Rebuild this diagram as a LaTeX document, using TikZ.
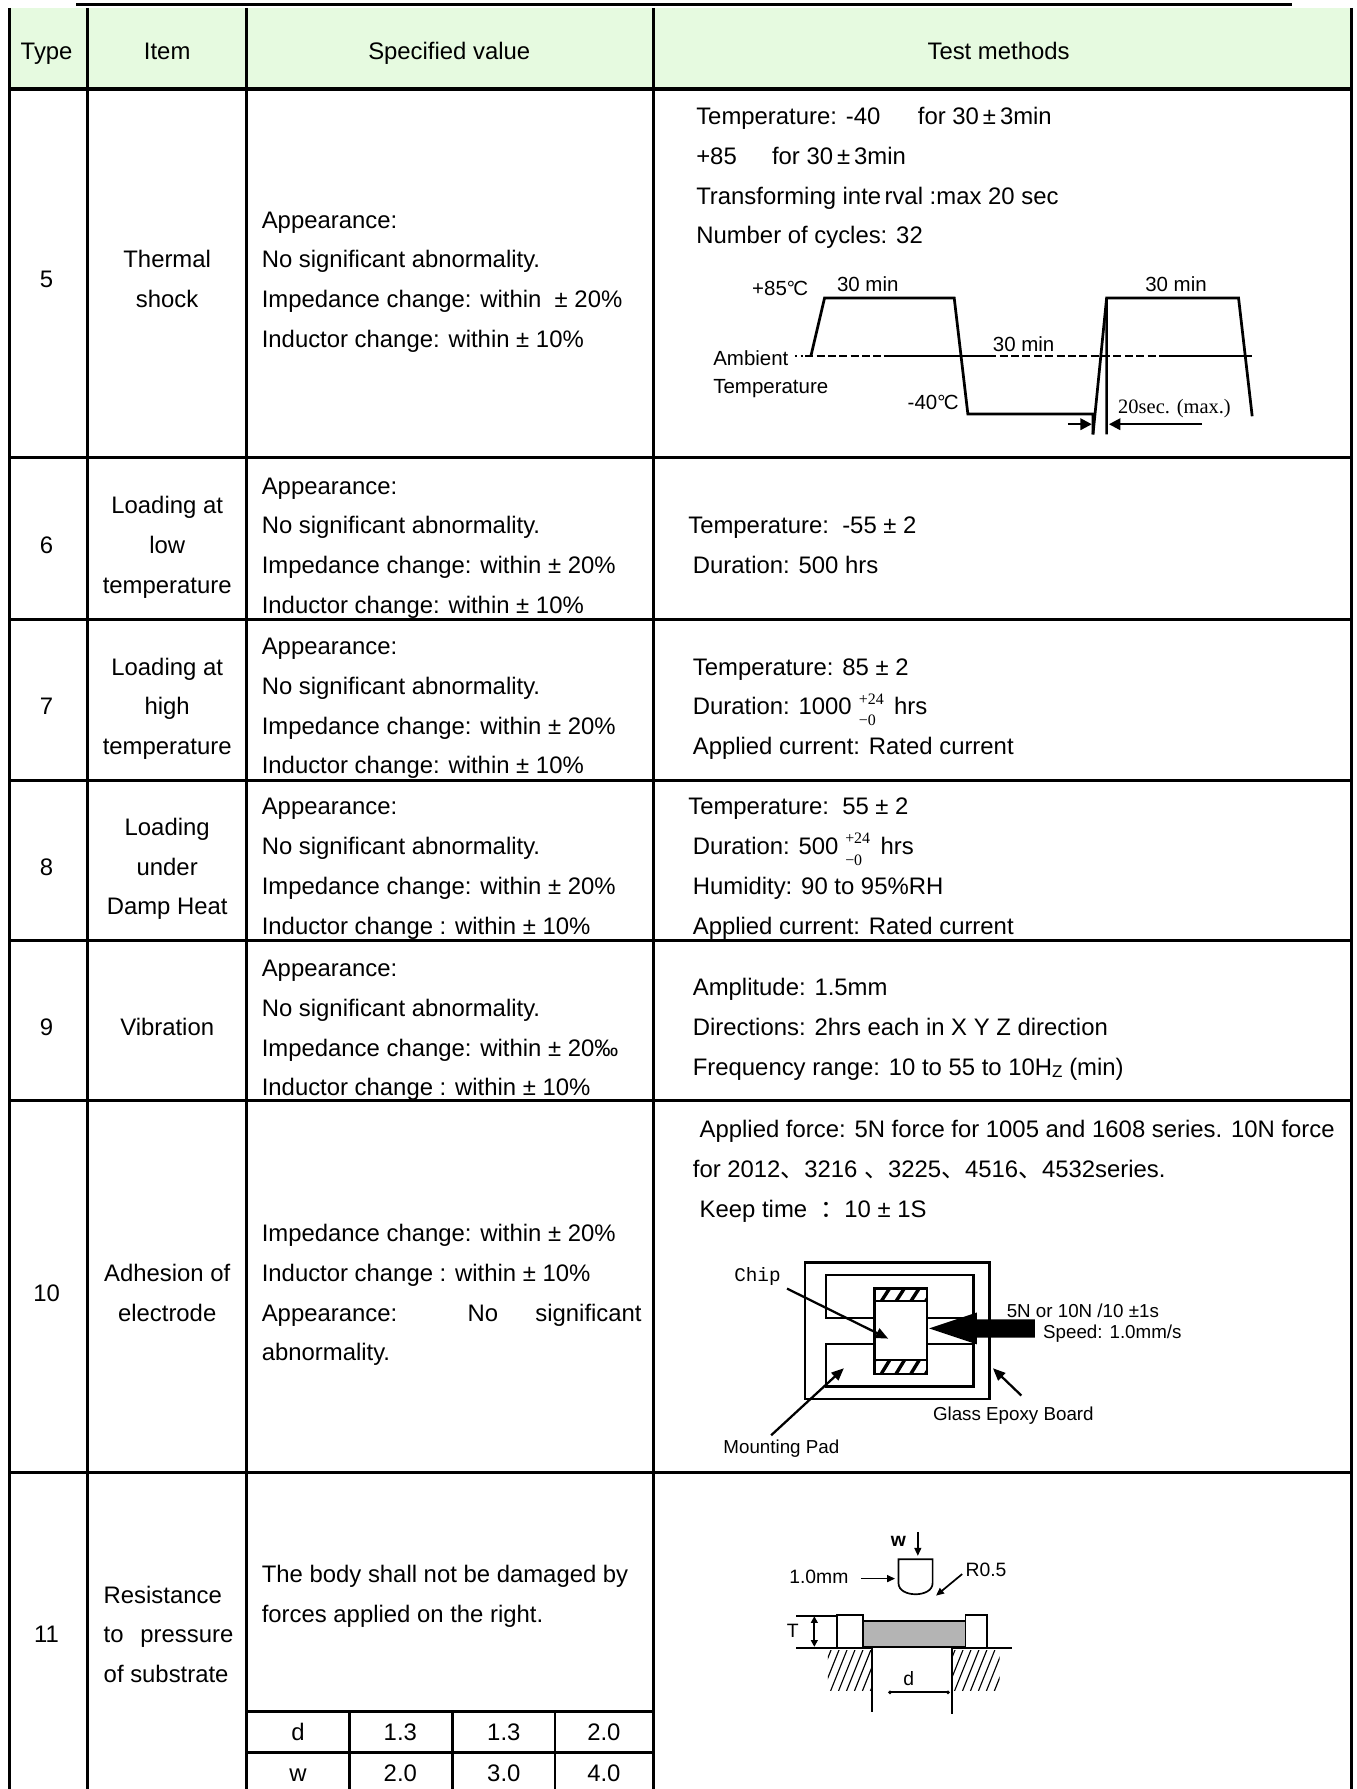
\documentclass[tikz,border=0pt]{standalone}
\usepackage{fontspec}
\setmainfont{Liberation Sans}
\newfontfamily\cjk{Noto Sans CJK SC}
\newfontfamily\serf{Liberation Serif}
\newfontfamily\monof{Liberation Mono}
\usetikzlibrary{arrows.meta}
\definecolor{hdr}{HTML}{E6FAE0}
\definecolor{bodygray}{HTML}{B4B4B4}
\begin{document}
\begin{tikzpicture}[x=1pt,y=-1pt,
  txt/.style={inner sep=0pt,font=\fontsize{21}{25}\selectfont},
  L/.style={txt,anchor=base west},
  C/.style={txt,anchor=base},
  scr/.style={inner sep=0pt,anchor=base west,font=\serf\fontsize{14}{14}\selectfont},
  grid/.style={line width=2.6pt},
  gl/.style={line width=2.4pt},
  lbl/.style={inner sep=0pt,font=\fontsize{18}{18}\selectfont},
  sm/.style={inner sep=0pt,font=\fontsize{16.5}{17}\selectfont},
  thin/.style={line width=1.5pt},
  med/.style={line width=2pt},
  arr/.style={line width=2pt,-{Triangle[length=11pt,width=9pt]}},
  sarr/.style={line width=1.5pt,-{Triangle[length=7pt,width=6pt]}}]
\useasboundingbox (0,0) rectangle (1193,1573);
% ---------------- table frame ----------------
\fill[hdr] (8,7) rectangle (1188,78);
\draw[line width=3pt] (67,4) -- (1136,4);
\foreach \x in {8,77,217,575,1188} \draw[grid] (\x,7) -- (\x,1573);
\draw[line width=3.2pt] (8,78) -- (1188,78);
\foreach \y in {402,545,686,827,968,1295} \draw[grid] (8,\y) -- (1188,\y);
\draw[grid] (217,1505) -- (575,1505);
\draw[grid] (217,1541) -- (575,1541);
\foreach \x in {307,398,488} \draw[grid] (\x,1505) -- (\x,1573);
% ---------------- header ----------------
\node[C] (hType) at (41,52.5) {Type};
\node[C] (hItem) at (147,52.5) {Item};
\node[C] (hSpec) at (395,52.5) {Specified value};
\node[C] (hTest) at (878,52.5) {Test methods};
% ---------------- row 5 ----------------
\node[C] (n5) at (41,252.5) {5};
\node[C] (i5a) at (147,235.5) {Thermal};
\node[C] (i5b) at (147,270.5) {shock};
\node[L] (s5a) at (230,200.5) {Appearance:};
\node[L] (s5b) at (230,235.5) {No significant abnormality.};
\node[L] (s5c) at (230,270.5) {Impedance change: within \ ± 20\%};
\node[L] (s5d) at (230,305.5) {Inductor change: within ± 10\%};
\node[L] (m5a) at (612,109.5) {Temperature: -40\hspace{33pt}for 30\,±\,3min};
\node[L] (m5b) at (612,144.5) {+85\hspace{31pt}for 30\,±\,3min};
\node[L] (m5c) at (612,179.5) {Transforming inte\kern3pt rval :max 20 sec};
\node[L] (m5d) at (612,214.5) {Number of cycles: 32};
% thermal shock graph
\draw[gl] (713,313) -- (725,262) -- (839,262) -- (851,364) -- (961,364) -- (961,382);
\draw[gl] (961,382) -- (973,262);
\draw[gl] (973,382) -- (973,262) -- (1089,262) -- (1101,366);
\draw[gl,dash pattern=on 2pt off 3pt] (699,313) -- (706,313);
\draw[gl,dash pattern=on 7pt off 3pt] (708,313) -- (777,313);
\draw[gl] (777,313) -- (869,313);
\draw[gl,dash pattern=on 7pt off 3pt] (869,313) -- (1022,313);
\draw[gl] (1022,313) -- (1101,313);
\draw[line width=2pt,-{Triangle[length=10pt,width=10pt]}] (939,373) -- (960,373);
\draw[line width=2pt,-{Triangle[length=10pt,width=10pt]}] (1057,373) -- (975,373);
\node[lbl,anchor=base] (g85) at (686,260) {+85°\kern-1.5pt C};
\node[lbl,anchor=base] (g30a) at (763,256) {30 min};
\node[lbl,anchor=base] (g30b) at (1034,256) {30 min};
\node[lbl,anchor=base] (g30c) at (900,309) {30 min};
\node[lbl,anchor=base west] (gamb) at (627,321) {Ambient};
\node[lbl,anchor=base west] (gtmp) at (627,346) {Temperature};
\node[lbl,anchor=base east] (g40) at (843,360) {-40°\kern-1.5pt C};
\node[inner sep=0pt,anchor=base west,font=\serf\fontsize{18}{18}\selectfont] (g20) at (983,364) {20sec. (max.)};
% ---------------- row 6 ----------------
\node[C] (n6) at (41,486.5) {6};
\node[C] (i6a) at (147,451.5) {Loading at};
\node[C] (i6b) at (147,486.5) {low};
\node[C] (i6c) at (147,521.5) {temperature};
\node[L] (s6a) at (230,434.5) {Appearance:};
\node[L] (s6b) at (230,469.5) {No significant abnormality.};
\node[L] (s6c) at (230,504.5) {Impedance change: within ± 20\%};
\node[L] (s6d) at (230,539.5) {Inductor change: within ± 10\%};
\node[L] (m6a) at (605,469.5) {Temperature:\ \ -55 ± 2};
\node[L] (m6b) at (609,504.5) {Duration: 500 hrs};
% ---------------- row 7 ----------------
\node[C] (n7) at (41,628.5) {7};
\node[C] (i7a) at (147,593.5) {Loading at};
\node[C] (i7b) at (147,628.5) {high};
\node[C] (i7c) at (147,663.5) {temperature};
\node[L] (s7a) at (230,575.5) {Appearance:};
\node[L] (s7b) at (230,610.5) {No significant abnormality.};
\node[L] (s7c) at (230,645.5) {Impedance change: within ± 20\%};
\node[L] (s7d) at (230,680.5) {Inductor change: within ± 10\%};
\node[L] (m7a) at (609,593.5) {Temperature: 85 ± 2};
\node[L] (m7b) at (609,628.5) {Duration: 1000};
\node[scr] (m7p) at (755,619) {+24};
\node[scr] (m7m) at (755,638) {−0};
\node[L] (m7h) at (786,628.5) {hrs};
\node[L] (m7c) at (609,663.5) {Applied current: Rated current};
% ---------------- row 8 ----------------
\node[C] (n8) at (41,769.5) {8};
\node[C] (i8a) at (147,734.5) {Loading};
\node[C] (i8b) at (147,769.5) {under};
\node[C] (i8c) at (147,804.5) {Damp Heat};
\node[L] (s8a) at (230,716.5) {Appearance:};
\node[L] (s8b) at (230,751.5) {No significant abnormality.};
\node[L] (s8c) at (230,786.5) {Impedance change: within ± 20\%};
\node[L] (s8d) at (230,821.5) {Inductor change : within ± 10\%};
\node[L] (m8a) at (605,716.5) {Temperature:\ \ 55 ± 2};
\node[L] (m8b) at (609,751.5) {Duration: 500};
\node[scr] (m8p) at (743,742) {+24};
\node[scr] (m8m) at (743,761) {−0};
\node[L] (m8h) at (774,751.5) {hrs};
\node[L] (m8c) at (609,786.5) {Humidity: 90 to 95\%RH};
\node[L] (m8d) at (609,821.5) {Applied current: Rated current};
% ---------------- row 9 ----------------
\node[C] (n9) at (41,910.5) {9};
\node[C] (i9a) at (147,910.5) {Vibration};
\node[L] (s9a) at (230,858.5) {Appearance:};
\node[L] (s9b) at (230,893.5) {No significant abnormality.};
\node[L] (s9c) at (230,928.5) {Impedance change: within ± 20‰};
\node[L] (s9d) at (230,963.5) {Inductor change : within ± 10\%};
\node[L] (m9a) at (609,875.5) {Amplitude: 1.5mm};
\node[L] (m9b) at (609,910.5) {Directions: 2hrs each in X Y Z direction};
\node[L] (m9c) at (609,945.5) {Frequency range: 10 to 55 to 10H\raisebox{-1.5pt}{\fontsize{15}{15}\selectfont Z} (min)};
% ---------------- row 10 ----------------
\node[C] (n10) at (41,1144.5) {10};
\node[C] (i10a) at (147,1126.5) {Adhesion of};
\node[C] (i10b) at (147,1161.5) {electrode};
\node[L] (s10a) at (230,1091.5) {Impedance change: within ± 20\%};
\node[L] (s10b) at (230,1126.5) {Inductor change : within ± 10\%};
\node[L] (s10c) at (230,1161.5) {\makebox[334pt][s]{Appearance: No significant}};
\node[L] (s10d) at (230,1196.5) {abnormality.};
\node[L] (m10a) at (615,1000.5) {Applied force: 5N force for 1005 and 1608 series. 10N force};
\node[L] (m10b) at (609,1035.5) {for 2012{\cjk 、}3216 {\cjk 、}3225{\cjk 、}4516{\cjk 、}4532series.};
\node[L] (m10c) at (615,1070.5) {Keep time\ \ {\cjk ：}10 ± 1S};
% adhesion figure
\draw[med] (708,1110) rectangle (870,1230);
\draw[med] (726,1121) rectangle (856,1159);
\draw[med] (726,1182) rectangle (856,1219);
\filldraw[med,fill=white] (769,1133) rectangle (815,1208);
\begin{scope}
  \clip (769,1133) rectangle (815,1144);
  \foreach \i in {0,...,4} \draw[line width=3pt] ({760+\i*13},1147) -- ({771+\i*13},1130);
\end{scope}
\begin{scope}
  \clip (769,1196) rectangle (815,1208);
  \foreach \i in {0,...,4} \draw[line width=3pt] ({760+\i*13},1211) -- ({771+\i*13},1193);
\end{scope}
\draw[med] (769,1144) -- (815,1144);
\draw[med] (769,1196) -- (815,1196);
\draw[med] (769,1133) rectangle (815,1208);
\fill (910,1160) -- (859,1160) -- (859,1154) -- (817,1168) -- (859,1182) -- (859,1176) -- (910,1176) -- cycle;
\draw[arr] (692,1133) -- (781,1177);
\draw[arr] (678,1262) -- (742,1203);
\draw[arr] (898,1227) -- (873,1203);
\node[inner sep=0pt,font=\monof\fontsize{17}{17}\selectfont] (chip) at (666,1122) {Chip};
\node[sm,anchor=base west] (f5n) at (885,1158) {5N or 10N /10 ±1s};
\node[sm,anchor=base west] (fsp) at (917,1177) {Speed: 1.0mm/s};
\node[sm,anchor=base] (fgl) at (891,1249) {Glass Epoxy Board};
\node[sm,anchor=base] (fmp) at (687,1278) {Mounting Pad};
% ---------------- row 11 ----------------
\node[C] (n11) at (41,1444.5) {11};
\node[L] (i11a) at (91,1409.5) {Resistance};
\node[L] (i11b) at (91,1444.5) {\makebox[114pt][s]{to pressure}};
\node[L] (i11c) at (91,1479.5) {of substrate};
\node[L] (s11a) at (230,1391.5) {The body shall not be damaged by};
\node[L] (s11b) at (230,1426.5) {forces applied on the right.};
\node[C] (td) at (262,1530.5) {d};
\node[C] (td1) at (352,1530.5) {1.3};
\node[C] (td2) at (443,1530.5) {1.3};
\node[C] (td3) at (531,1530.5) {2.0};
\node[C] (tw) at (262,1566.5) {w};
\node[C] (tw1) at (352,1566.5) {2.0};
\node[C] (tw2) at (443,1566.5) {3.0};
\node[C] (tw3) at (531,1566.5) {4.0};
% pressure figure
\node[inner sep=0pt,anchor=base,font=\bfseries\fontsize{17}{17}\selectfont] (pw) at (790,1360) {w};
\draw[sarr] (807,1347) -- (807,1368);
\draw[thin] (790,1371) -- (820,1371) -- (820,1392) .. controls (820,1405) and (790,1405) .. (790,1392) -- cycle;
\node[inner sep=0pt,anchor=base,font=\fontsize{17}{17}\selectfont] (p10) at (720,1392) {1.0mm};
\draw[sarr] (757,1388) -- (787,1388);
\node[inner sep=0pt,anchor=base,font=\fontsize{17}{17}\selectfont] (pr) at (867,1386) {R0.5};
\draw[sarr] (846,1384) -- (823,1403);
\draw[thin] (700,1421) -- (736,1421);
\draw[thin,{Triangle[length=6pt,width=6pt]}-{Triangle[length=6pt,width=6pt]}] (716,1421) -- (716,1448);
\node[inner sep=0pt,anchor=base,font=\fontsize{17}{17}\selectfont] (pT) at (697,1440) {T};
\fill[bodygray] (759,1425) rectangle (849,1448);
\draw[thin] (759,1425) -- (849,1425);
\draw[thin] (759,1448) -- (849,1448);
\draw[thin] (736,1420) rectangle (759,1449);
\draw[thin] (849,1420) rectangle (868,1449);
\draw[thin] (700,1449) -- (767,1449);
\draw[thin] (837,1449) -- (890,1449);
\draw[thin] (767,1449) -- (767,1505);
\draw[thin] (837,1449) -- (837,1507);
\begin{scope}
  \clip (728,1451) rectangle (767,1486);
  \foreach \i in {0,...,8} \draw[line width=1pt] ({715+\i*7},1490) -- ({731+\i*7},1450);
\end{scope}
\begin{scope}
  \clip (837,1451) rectangle (879,1486);
  \foreach \i in {0,...,8} \draw[line width=1pt] ({824+\i*7},1490) -- ({840+\i*7},1450);
\end{scope}
\draw[thin,{Circle[length=3pt]}-{Circle[length=3pt]}] (781,1488) -- (835,1488);
\node[inner sep=0pt,anchor=base,font=\fontsize{17}{17}\selectfont] (pd) at (799,1482) {d};
\end{tikzpicture}
\end{document}
